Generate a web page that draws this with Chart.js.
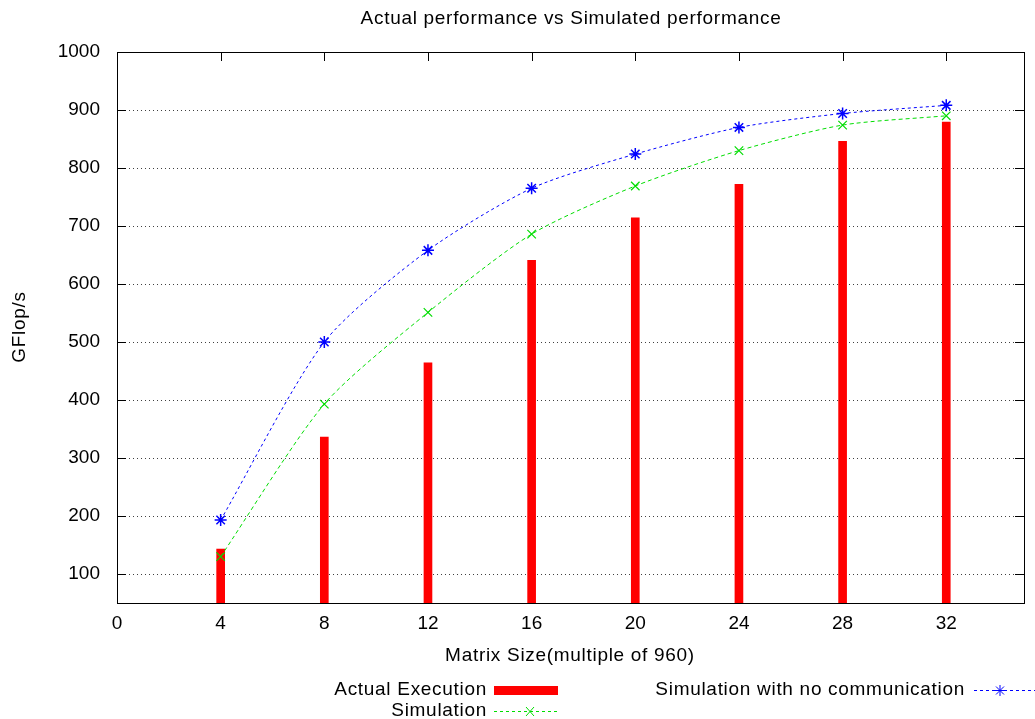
<!DOCTYPE html>
<html>
<head>
<meta charset="utf-8">
<script src="https://cdn.jsdelivr.net/npm/chart.js@4/dist/chart.umd.min.js"></script>
<style>
  html, body { margin: 0; padding: 0; background: #fff; }
  #wrap { width: 1035px; height: 719px; position: relative; }
</style>
</head>
<body>
<div id="wrap"><canvas id="perfChart"></canvas></div>
<script>
// matrix sizes (multiple of 960)
const sizes = [4, 8, 12, 16, 20, 24, 28, 32];
const actualExec = [143, 336, 464, 641, 714, 772, 846, 879];
const simulation = [130, 393, 551, 686, 769, 830, 874, 890];
const simNoComm = [193, 500, 658, 765, 824, 870, 894, 908];
const xTicks = [0, 4, 8, 12, 16, 20, 24, 28, 32];
const yTicks = [100, 200, 300, 400, 500, 600, 700, 800, 900, 1000];

const FONT = 'Liberation Sans, Arial, sans-serif';
const pts = (arr) => sizes.map((s, i) => ({ x: s, y: arr[i] }));

// inward ticks go under the bars, box + texts + legend on top
const framePlugin = {
  id: 'frame',
  beforeDatasetsDraw(chart) {
    const { ctx, chartArea: a, scales } = chart;
    ctx.save();
    ctx.strokeStyle = '#000';
    ctx.lineWidth = 1;
    ctx.beginPath();
    xTicks.forEach(v => {
      const px = Math.round(scales.x.getPixelForValue(v)) + 0.5;
      ctx.moveTo(px, a.bottom); ctx.lineTo(px, a.bottom - 9);
      ctx.moveTo(px, a.top); ctx.lineTo(px, a.top + 9);
    });
    yTicks.forEach(v => {
      const py = Math.round(scales.y.getPixelForValue(v)) + 0.5;
      ctx.moveTo(a.left, py); ctx.lineTo(a.left + 9, py);
      ctx.moveTo(a.right, py); ctx.lineTo(a.right - 9, py);
    });
    ctx.stroke();
    ctx.restore();
  },
  afterDatasetsDraw(chart) {
    const { ctx, chartArea: a } = chart;
    ctx.save();
    ctx.strokeStyle = '#000';
    ctx.lineWidth = 1;
    ctx.setLineDash([]);
    ctx.strokeRect(Math.round(a.left) + 0.5, Math.round(a.top) + 0.5,
      Math.round(a.right - a.left), Math.round(a.bottom - a.top));

    ctx.fillStyle = '#000';
    ctx.font = '19px ' + FONT;
    ctx.letterSpacing = '0.7px';
    ctx.textBaseline = 'middle';
    ctx.textAlign = 'center';
    ctx.fillText('Actual performance vs Simulated performance', 571, 19);
    ctx.fillText('Matrix Size(multiple of 960)', 570, 656);
    ctx.save();
    ctx.translate(20, 327);
    ctx.rotate(-Math.PI / 2);
    ctx.fillText('GFlop/s', 0, 0);
    ctx.restore();

    // legend
    ctx.textAlign = 'right';
    ctx.fillText('Actual Execution', 487, 690);
    ctx.fillText('Simulation', 487, 711);
    ctx.fillText('Simulation with no communication', 965, 690);
    ctx.letterSpacing = '0px';
    ctx.fillStyle = '#ff0000';
    ctx.fillRect(494, 686, 64, 9);

    ctx.lineWidth = 1;
    ctx.strokeStyle = '#00dd00';
    ctx.setLineDash([3, 3]);
    ctx.beginPath(); ctx.moveTo(494, 711.5); ctx.lineTo(558, 711.5); ctx.stroke();
    ctx.setLineDash([]);
    ctx.beginPath();
    ctx.moveTo(526, 707); ctx.lineTo(534, 716);
    ctx.moveTo(534, 707); ctx.lineTo(526, 716);
    ctx.stroke();

    ctx.strokeStyle = '#0000ff';
    ctx.setLineDash([3, 3]);
    ctx.beginPath(); ctx.moveTo(974, 690.5); ctx.lineTo(1035, 690.5); ctx.stroke();
    ctx.setLineDash([]);
    ctx.beginPath();
    ctx.moveTo(1000, 685); ctx.lineTo(1000, 696);
    ctx.moveTo(995, 690.5); ctx.lineTo(1005, 690.5);
    ctx.moveTo(996, 686.5); ctx.lineTo(1004, 694.5);
    ctx.moveTo(1004, 686.5); ctx.lineTo(996, 694.5);
    ctx.stroke();
    ctx.restore();
  }
};

new Chart(document.getElementById('perfChart'), {
  type: 'bar',
  data: {
    datasets: [
      {
        type: 'line',
        label: 'Simulation with no communication',
        data: pts(simNoComm),
        borderColor: '#0000ff',
        borderWidth: 1,
        borderDash: [3, 3],
        tension: 0.25,
        pointStyle: 'star',
        pointRadius: 6,
        pointBorderColor: '#0000ff',
        pointBorderWidth: 1.5,
        fill: false,
        order: 1,
      },
      {
        type: 'line',
        label: 'Simulation',
        data: pts(simulation),
        borderColor: '#00dd00',
        borderWidth: 1,
        borderDash: [4, 3],
        tension: 0.25,
        pointStyle: 'crossRot',
        pointRadius: 6,
        pointBorderColor: '#00dd00',
        pointBorderWidth: 1.2,
        fill: false,
        order: 2,
      },
      {
        label: 'Actual Execution',
        data: pts(actualExec),
        backgroundColor: '#ff0000',
        barThickness: 8,
        borderWidth: 0,
        order: 3,
      },
    ],
  },
  options: {
    responsive: true,
    maintainAspectRatio: false,
    animation: false,
    layout: { padding: { top: 52, right: 11, left: 0, bottom: 0 } },
    plugins: {
      legend: { display: false },
      title: { display: false },
      tooltip: { enabled: false },
    },
    scales: {
      x: {
        type: 'linear',
        offset: false,
        min: 0,
        max: 35,
        afterBuildTicks: (s) => { s.ticks = xTicks.map(v => ({ value: v })); },
        afterFit: (s) => { s.height = 116; },
        grid: { display: false, drawTicks: false, offset: false },
        border: { display: false },
        ticks: { color: '#000', font: { family: FONT, size: 19 }, padding: 9, maxRotation: 0,
          callback: (v) => String(v) },
      },
      y: {
        min: 50,
        max: 1000,
        afterBuildTicks: (s) => { s.ticks = yTicks.map(v => ({ value: v })); },
        afterFit: (s) => { s.width = 117; },
        grid: {
          drawTicks: false,
          color: (c) => (c.tick && c.tick.value === 1000 ? 'rgba(0,0,0,0)' : 'rgba(0,0,0,0.75)'),
          lineWidth: 1,
        },
        border: { display: false, dash: [1, 3] },
        ticks: { color: '#000', font: { family: FONT, size: 19 }, padding: 17,
          callback: (v) => String(v) },
      },
    },
  },
  plugins: [framePlugin],
});
</script>
</body>
</html>
